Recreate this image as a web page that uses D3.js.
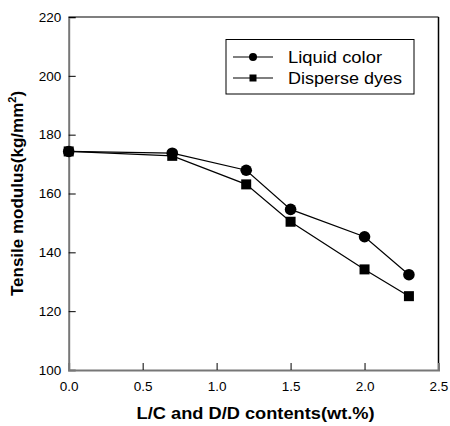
<!DOCTYPE html>
<html>
<head>
<meta charset="utf-8">
<script src="https://cdn.jsdelivr.net/npm/d3@7"></script>
<style>
  body { margin: 0; background: #fff; }
  svg text { font-family: Arial, "Liberation Sans", sans-serif; }
</style>
</head>
<body>
<div id="chart"></div>
<script>
// values
var contents = [0, 0.7, 1.2, 1.5, 2.0, 2.3];
var liquidColor = [174.3, 173.7, 167.9, 154.6, 145.3, 132.4];
var disperseDyes = [174.3, 172.8, 163.1, 150.4, 134.2, 125.1];
var seriesNames = ["Liquid color", "Disperse dyes"];
var xTicks = [0, 0.5, 1.0, 1.5, 2.0, 2.5];
var yTicks = [100, 120, 140, 160, 180, 200, 220];

var margin = { top: 17, right: 11.5, bottom: 56, left: 68.7 },
    width = 450 - margin.left - margin.right,
    height = 426 - margin.top - margin.bottom;

var x = d3.scaleLinear().domain([0, 2.5]).range([0, width]);
var y = d3.scaleLinear().domain([100, 220]).range([height, 0]);

var svg = d3.select("#chart").append("svg")
    .attr("width", 450)
    .attr("height", 426)
  .append("g")
    .attr("transform", "translate(" + margin.left + "," + margin.top + ")");

// frame: top and right black
svg.append("line").attr("x1", 0).attr("x2", width).attr("y1", 0).attr("y2", 0)
    .attr("stroke", "#000").attr("stroke-width", 1.2);
svg.append("line").attr("x1", width).attr("x2", width).attr("y1", 0).attr("y2", height)
    .attr("stroke", "#000").attr("stroke-width", 1.5);

var yAxis = d3.axisLeft(y).tickValues(yTicks).tickSize(-7).tickPadding(14)
    .tickFormat(d3.format("d"));
var xAxis = d3.axisBottom(x).tickValues(xTicks).tickSize(-7).tickPadding(14)
    .tickFormat(d3.format(".1f"));

var gy = svg.append("g").attr("class", "y axis").call(yAxis);
var gx = svg.append("g").attr("class", "x axis")
    .attr("transform", "translate(0," + height + ")").call(xAxis);

[gx, gy].forEach(function (g) {
  g.select(".domain").attr("stroke", "#777").attr("stroke-width", 2);
  g.selectAll(".tick line").attr("stroke", "#000").attr("stroke-width", 1);
  g.selectAll(".tick text").attr("fill", "#000").style("font-size", "13.5px")
    .style("font-family", "Arial, 'Liberation Sans', sans-serif");
});
gy.selectAll(".tick text").attr("x", -7.5);
gx.selectAll(".tick text").attr("y", 11);
// hide first/last inner tick marks at the axis ends
gx.selectAll(".tick line").filter(function (d) { return d === 0 || d === 2.5; }).remove();
gy.selectAll(".tick line").filter(function (d) { return d === 100; }).remove();

// axis titles
svg.append("text")
    .attr("x", width / 2 + 2)
    .attr("y", height + 49)
    .attr("text-anchor", "middle")
    .attr("font-weight", "bold")
    .style("font-size", "17px")
    .attr("textLength", 238)
    .attr("lengthAdjust", "spacingAndGlyphs")
    .text("L/C and D/D contents(wt.%)");

var yt = svg.append("text")
    .attr("transform", "translate(" + (-margin.left + 23) + "," + (height / 2) + ") rotate(-90)")
    .attr("text-anchor", "middle")
    .attr("font-weight", "bold")
    .style("font-size", "17px");
yt.append("tspan").text("Tensile modulus(kg/mm");
yt.append("tspan").attr("dy", -7).style("font-size", "11px").text("2");
yt.append("tspan").attr("dy", 7).text(")");

// series
var line = d3.line()
    .x(function (d) { return x(d[0]); })
    .y(function (d) { return y(d[1]); });

var series = [liquidColor, disperseDyes].map(function (vals) {
  return contents.map(function (c, i) { return [c, vals[i]]; });
});

series.forEach(function (pts, k) {
  svg.append("path")
      .datum(pts)
      .attr("fill", "none")
      .attr("stroke", "#000")
      .attr("stroke-width", 1.2)
      .attr("d", line);
});

svg.selectAll(".sq")
    .data(series[1])
    .enter().append("rect")
    .attr("class", "sq")
    .attr("x", function (d) { return x(d[0]) - 5; })
    .attr("y", function (d) { return y(d[1]) - 5; })
    .attr("width", 10)
    .attr("height", 10)
    .attr("fill", "#000");

svg.selectAll(".dot")
    .data(series[0])
    .enter().append("circle")
    .attr("class", "dot")
    .attr("cx", function (d) { return x(d[0]); })
    .attr("cy", function (d) { return y(d[1]); })
    .attr("r", 5.8)
    .attr("fill", "#000");

// legend
var lg = svg.append("g").attr("transform", "translate(" + (226 - margin.left) + "," + (39.5 - margin.top) + ")");
lg.append("rect")
    .attr("width", 188)
    .attr("height", 54.5)
    .attr("fill", "#fff")
    .attr("stroke", "#000")
    .attr("stroke-width", 1);

seriesNames.forEach(function (name, i) {
  var cy = 17.5 + i * 21;
  lg.append("line").attr("x1", 7).attr("x2", 47).attr("y1", cy).attr("y2", cy)
      .attr("stroke", "#000").attr("stroke-width", 1.2);
  if (i === 0) {
    lg.append("circle").attr("cx", 27).attr("cy", cy).attr("r", 4).attr("fill", "#000");
  } else {
    lg.append("rect").attr("x", 23.5).attr("y", cy - 3.5).attr("width", 7).attr("height", 7).attr("fill", "#000");
  }
  lg.append("text")
      .attr("x", 62)
      .attr("y", cy + 5.5)
      .style("font-size", "16px")
      .attr("textLength", i === 0 ? 94 : 114)
      .attr("lengthAdjust", "spacingAndGlyphs")
      .text(name);
});
</script>
</body>
</html>
